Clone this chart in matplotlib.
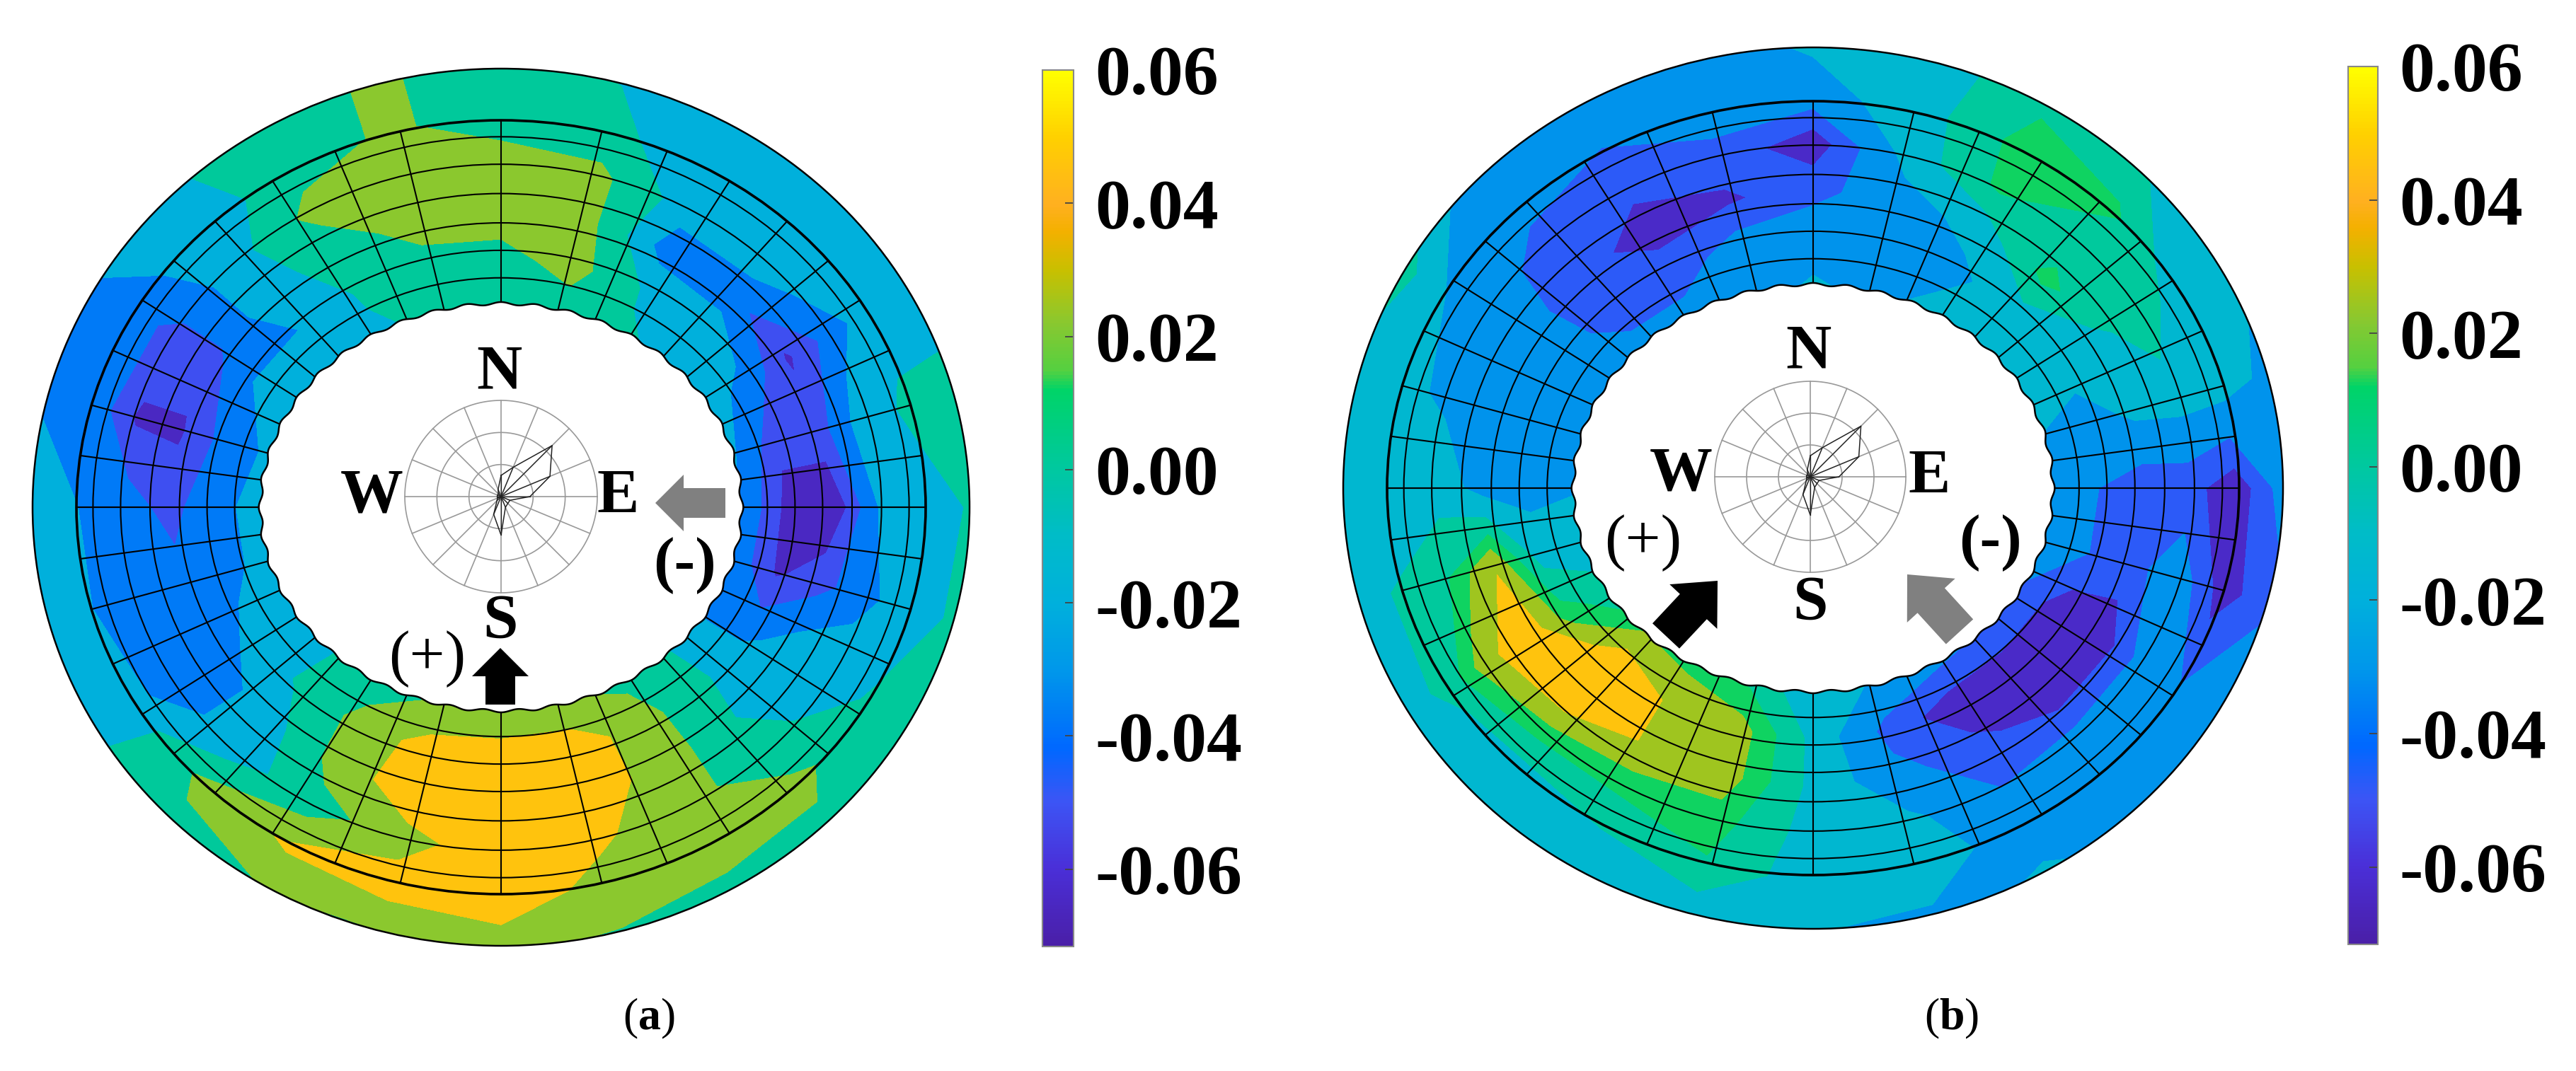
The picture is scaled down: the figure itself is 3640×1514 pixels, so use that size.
import numpy as np
import matplotlib
matplotlib.use('Agg')
import matplotlib.pyplot as plt
from matplotlib.colors import LinearSegmentedColormap, Normalize, BoundaryNorm, ListedColormap
from matplotlib.patches import Ellipse, FancyArrow, Polygon
from matplotlib.cm import ScalarMappable

plt.rcParams['font.family'] = ['Liberation Serif', 'DejaVu Serif']
plt.rcParams['mathtext.fontset'] = 'custom'
plt.rcParams['mathtext.bf'] = 'Liberation Serif:bold'
plt.rcParams['mathtext.rm'] = 'Liberation Serif'

# angles of the data columns, degrees counter clockwise from E
angles = np.arange(0, 360, 15)
# radial stations, 0 = inner hole, 1 = outer edge
stations = [0, 0.2, 0.4, 0.6, 0.8, 1]

# panel (a), one list per radial station
a_r0 = [-.02, -.018, -.02, -.012, -.006, -.004, -.003, -.008, -.014, -.02, -.02, -.022,
        -.02, -.02, -.018, -.012, .0, .005, .0, .006, .005, -.012, -.035, -.025]
a_r1 = [-.062, -.055, -.035, -.018, -.012, .02, .005, .004, -.008, -.03, -.03, -.04,
        -.035, -.035, -.025, -.008, .018, .04, .045, .044, .02, -.006, -.035, -.06]
a_r2 = [-.07, -.05, -.06, -.04, -.04, .02, .024, .022, .0, -.02, -.05, -.06,
        -.05, -.04, -.04, -.022, .02, .045, .045, .042, .024, -.01, -.02, -.05]
a_r3 = [-.03, -.02, -.04, -.022, -.022, .018, .024, .024, .02, -.02, -.05, -.06,
        -.038, -.04, -.04, -.02, .003, .024, .045, .035, .02, -.003, -.02, -.035]
a_r4 = [-.02, -.006, -.02, -.02, -.02, -.006, -.002, .016, .0, -.02, -.038, -.035,
        -.03, -.03, -.025, .018, .035, .042, .045, .024, .022, .018, -.008, -.02]
a_r5 = [-.004, -.003, -.02, -.02, -.03, -.012, -.006, .016, .0, -.012, -.03, -.03,
        -.018, -.018, -.012, .0, .006, .0, .012, .006, .0, .002, -.002, -.002]

# panel (b)
b_r0 = [-.02, -.02, -.012, -.014, -.014, -.022, -.016, -.025, -.028, -.03, -.03, -.03,
        -.022, -.018, -.004, .008, .008, -.002, -.016, -.02, -.025, -.032, -.035, -.03]
b_r1 = [-.04, -.03, -.014, -.012, -.026, -.03, -.03, -.032, -.05, -.048, -.03, -.03,
        -.028, -.012, .012, .045, .03, .024, -.01, -.045, -.065, -.065, -.065, -.04]
b_r2 = [-.05, -.018, -.01, .012, -.016, -.03, -.045, -.058, -.06, -.05, -.032, -.03,
        -.028, .03, .045, .045, .03, .024, -.01, -.035, -.05, -.065, -.066, -.045]
b_r3 = [-.05, -.015, .004, -.006, .01, -.014, -.065, -.045, -.052, -.05, -.025, -.025,
        -.012, .006, .026, .012, .01, .012, -.012, -.018, -.04, -.035, -.035, -.03]
b_r4 = [-.065, -.015, -.016, .01, .012, -.012, -.03, -.03, -.04, -.03, -.022, -.018,
        -.012, -.005, -.003, -.012, -.006, .005, -.014, -.014, -.03, -.03, -.04, -.062]
b_r5 = [-.02, -.03, -.02, -.01, .002, -.012, -.016, -.03, -.03, -.03, .008, -.01,
        -.01, -.01, -.014, -.02, -.014, -.025, -.024, -.028, -.016, -.03, -.035, -.04]

# colorbar
cbar_values = [-.0716, -.06, -.05, -.042, -.03, -.02, -.01, 0, .012, .015, .022, .03, .036, .04, .05, .06]
cbar_colors = ['#4a1fa8', '#4a2fd8', '#3c55f5', '#0068ff', '#0098ea', '#00b0dc', '#00bcc8', '#00c8a0',
               '#00d468', '#55d040', '#88c830', '#c8c000', '#f4b000', '#ffb020', '#ffd000', '#ffff00']
cbar_ticks = [-.06, -.04, -.02, 0, .02, .04, .06]
cbar_labels = ['-0.06', '-0.04', '-0.02', '0.00', '0.02', '0.04', '0.06']

levels_a = [-.072, -.058, -.045, -.03, -.01, .012, .032, .06]
levels_b = [-.072, -.055, -.04, -.022, -.006, .007, .018, .032, .06]

# grid of the stereonet
spoke_angles = [0, 7, 14, 22, 30, 37, 45, 55, 65, 75]
ring_fracs = [.14, .29, .44, .6, .76, .91]

# wind rose, fraction of radius, clockwise from N
rose_dirs = np.arange(0, 360, 22.5)
rose_r = [.22, .33, .75, .55, .3, .1, .1, .12, .4, .2, .06, .04, .04, .04, .04, .08]

cmap = LinearSegmentedColormap.from_list(
    'bar', [((v - cbar_values[0]) / (cbar_values[-1] - cbar_values[0]), c) for v, c in zip(cbar_values, cbar_colors)], N=256)
norm = Normalize(cbar_values[0], cbar_values[-1])


W, H = 3641, 1514
fig = plt.figure(figsize=(W / 100, H / 100), dpi=100)
ax = fig.add_axes([0, 0, 1, 1])
ax.set_xlim(0, W)
ax.set_ylim(H, 0)
ax.axis('off')


def ell(cx, cy, a, b, t):
    return cx + a * np.cos(t), cy - b * np.sin(t)


def panel(rows, levels, cx, cy, outer, ring, hole, names):
    vals = np.array(rows)
    vals = np.column_stack([vals, vals[:, 0]])
    t = np.radians(np.append(angles, 360))
    # last and first stations pushed out a bit, the clip and the hole trim them
    rho = np.array(stations, dtype=float)
    rho[0] = -0.08
    rho[-1] = 1.08
    R, T = np.meshgrid(rho, t, indexing='ij')
    X = cx + (hole[0] + R * (outer[0] - hole[0])) * np.cos(T)
    Y = cy - (hole[1] + R * (outer[1] - hole[1])) * np.sin(T)

    colors = [cmap(norm((levels[i] + levels[i + 1]) / 2)) for i in range(len(levels) - 1)]
    cs = ax.contourf(X, Y, vals, levels=levels, colors=colors, extend='both', zorder=1)
    clip = Ellipse((cx, cy), 2 * outer[0], 2 * outer[1], fc='none', ec='none', transform=ax.transData)
    ax.add_patch(clip)
    cs.set_clip_path(clip)
    ax.add_patch(Ellipse((cx, cy), 2 * outer[0], 2 * outer[1], fc='none', ec='black', lw=1.8, zorder=3))

    # stereonet lines
    for fr in ring_fracs:
        a = hole[0] + fr * (ring[0] - hole[0])
        b = hole[1] + fr * (ring[1] - hole[1])
        ax.add_patch(Ellipse((cx, cy), 2 * a, 2 * b, fc='none', ec='black', lw=1.5, zorder=3))
    ax.add_patch(Ellipse((cx, cy), 2 * ring[0], 2 * ring[1], fc='none', ec='black', lw=2.6, zorder=3))
    ax.plot([cx, cx], [cy - ring[1], cy + ring[1]], color='black', lw=1.5, zorder=3)
    for d in spoke_angles:
        for sx, sy in [(1, 1), (-1, 1), (1, -1), (-1, -1)]:
            p = np.arctan2(np.sin(np.radians(d)) / ring[1], np.cos(np.radians(d)) / ring[0])
            x0, y0 = hole[0] * np.cos(p), hole[1] * np.sin(p)
            x1, y1 = ring[0] * np.cos(p), ring[1] * np.sin(p)
            ax.plot([cx + sx * x0, cx + sx * x1], [cy - sy * y0, cy - sy * y1], color='black', lw=1.5, zorder=3)

    # hole with its wavy edge
    tt = np.linspace(0, 2 * np.pi, 1500)
    wob = 1 + 0.007 * np.cos(44 * tt)
    hx, hy = ell(cx, cy, hole[0] * wob, hole[1] * wob, tt)
    ax.add_patch(Polygon(np.column_stack([hx, hy]), fc='white', ec='black', lw=1.8, zorder=4))


def rose(rx, ry, r):
    tt = np.linspace(0, 2 * np.pi, 200)
    for fr in [1 / 3, 2 / 3, 1]:
        ax.plot(rx + fr * r * np.cos(tt), ry + fr * r * np.sin(tt), color='#999999', lw=1.2, zorder=5)
    for d in rose_dirs:
        s, c = np.sin(np.radians(d)), np.cos(np.radians(d))
        ax.plot([rx, rx + r * s], [ry, ry - r * c], color='#999999', lw=1.2, zorder=5)
    rr = np.array(rose_r + rose_r[:1]) * r
    dd = np.radians(np.append(rose_dirs, 360))
    ax.plot(rx + rr * np.sin(dd), ry - rr * np.cos(dd), color='#222222', lw=1.1, zorder=6)
    for d, q in zip(rose_dirs, rose_r):
        ax.plot([rx, rx + q * r * np.sin(np.radians(d))], [ry, ry - q * r * np.cos(np.radians(d))],
                color='#222222', lw=.9, zorder=6)


def arrow(x0, y0, x1, y1, color, w=42, hw=80, hl=40):
    ax.add_patch(FancyArrow(x0, y0, x1 - x0, y1 - y0, width=w, head_width=hw, head_length=hl,
                            length_includes_head=True, fc=color, ec=color, lw=0, zorder=7))


def label(x, y, s, size=64, weight='bold'):
    ax.text(x, y, s, fontsize=size, fontweight=weight, ha='center', va='center', zorder=8)


def colorbar(x0, x1, y_top, y_bot):
    pos = [x0 / W, 1 - y_bot / H, (x1 - x0) / W, (y_bot - y_top) / H]
    cax = fig.add_axes(pos)
    cb = fig.colorbar(ScalarMappable(norm=norm, cmap=cmap), cax=cax, ticks=cbar_ticks)
    cb.set_ticklabels(cbar_labels)
    cax.tick_params(direction='in', length=9, width=1.3, color='#444444', pad=22, labelsize=72)
    for lab in cax.get_yticklabels():
        lab.set_fontweight('bold')
    cb.outline.set_edgecolor('#888888')
    cb.outline.set_linewidth(1.5)


# (a)
panel([a_r0, a_r1, a_r2, a_r3, a_r4, a_r5], levels_a, 708, 717, (662, 620), (600, 547), (340, 288), None)
rose(708, 702, 136)
label(705, 527, 'N')
label(525, 702, 'W')
label(873, 702, 'E')
label(707, 879, 'S')
label(968, 800, '(-)')
label(604, 932, '(+)', weight='normal')
arrow(1025, 711, 926, 711, '#808080')
arrow(707, 996, 707, 916, 'black')
colorbar(1473, 1517, 99, 1338)
ax.text(917, 1440, r'($\mathbf{a}$)', fontsize=46, ha='center', va='center')

# (b)
panel([b_r0, b_r1, b_r2, b_r3, b_r4, b_r5], levels_b, 2562, 690, (664, 623), (602, 547), (339, 288), None)
rose(2558, 674, 135)
label(2555, 498, 'N')
label(2375, 671, 'W')
label(2726, 674, 'E')
label(2558, 853, 'S')
label(2813, 768, '(-)')
label(2322, 768, '(+)', weight='normal')
arrow(2354, 899, 2427, 821, 'black', w=52, hw=92, hl=50)
arrow(2769, 893, 2695, 812, '#808080', w=52, hw=92, hl=50)
colorbar(3318, 3360, 94, 1335)
ax.text(2758, 1440, r'($\mathbf{b}$)', fontsize=46, ha='center', va='center')

fig.savefig('out.png', dpi=100)
